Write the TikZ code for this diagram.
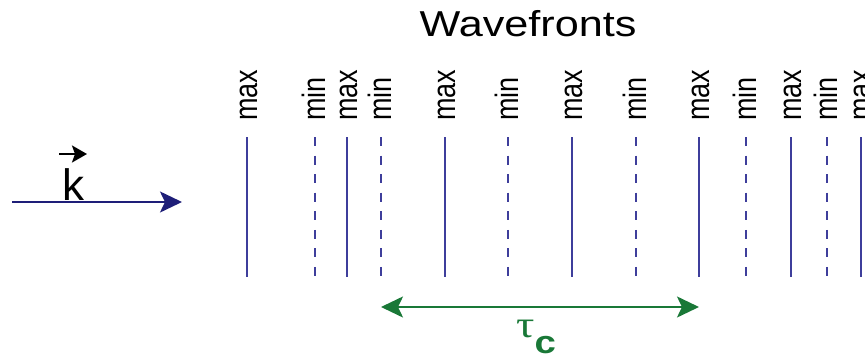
\documentclass[tikz,border=0pt]{standalone}
\usepackage{fontspec}
\setmainfont{Liberation Sans}
\newfontfamily\greekfont{Liberation Serif}
\usetikzlibrary{arrows.meta}
\definecolor{wavecol}{RGB}{62,62,155}
\definecolor{kcol}{RGB}{30,30,120}
\definecolor{tcol}{RGB}{25,120,55}
\begin{document}
\begin{tikzpicture}[x=1pt,y=1pt,
  max front/.style={draw=wavecol, line width=2pt},
  min front/.style={draw=wavecol, line width=2pt, dash pattern=on 9pt off 9.57pt},
  frontlabel/.style={inner sep=0pt, anchor=base west, xscale=1.2, rotate=90,
                     font=\fontsize{27}{27}\selectfont},
  bigtip/.tip={Stealth[length=22pt, width=21pt, inset=5pt]},
  kvec/.style={draw=kcol, line width=2pt, -{bigtip}},
  coh/.style={draw=tcol, line width=2pt, {bigtip}-{bigtip}},
]
\useasboundingbox (0,0) rectangle (865,357);
\clip (0,0) rectangle (865,357);

% title
\node[inner sep=0pt, anchor=base, xscale=1.2, font=\fontsize{36}{36}\selectfont]
  (title) at (528,320) {Wavefronts};

% wave vector
\node[inner sep=0pt, anchor=base west, font=\fontsize{44}{44}\selectfont]
  (k) at (62,157) {k};
\coordinate (kvs) at (59,203);
\coordinate (kve) at (87,203);
\draw[line width=2pt, -{Stealth[length=15pt, width=17pt, inset=3pt]}] (kvs) -- (kve);

\coordinate (ks) at (12,155);
\coordinate (ke) at (182,155);
\draw[kvec] (ks) -- (ke);

% wavefronts: maxima solid, minima dashed
\foreach \x/\t/\n in {247/max/1, 315/min/2, 347/max/3, 381/min/4, 445/max/5,
                      508/min/6, 572/max/7, 636/min/8, 699/max/9, 746/min/10,
                      791/max/11, 827/min/12, 861/max/13} {
  \coordinate (top\n) at (\x,220);
  \coordinate (bot\n) at (\x,80);
  \draw[\t\space front] (top\n) -- (bot\n);
  \node[frontlabel] (lab\n) at (\x+10,236) {\t};
}

% coherence time
\coordinate (ts) at (381,50);
\coordinate (te) at (699,50);
\draw[coh] (ts) -- (te);
\node[inner sep=0pt, anchor=base west, xscale=1.2, text=tcol,
      font=\fontsize{32}{32}\selectfont]
  (tauc) at (516,20) {{\greekfont\fontsize{38}{38}\selectfont τ}\raisebox{-16pt}{\bfseries c}};
\end{tikzpicture}
\end{document}
